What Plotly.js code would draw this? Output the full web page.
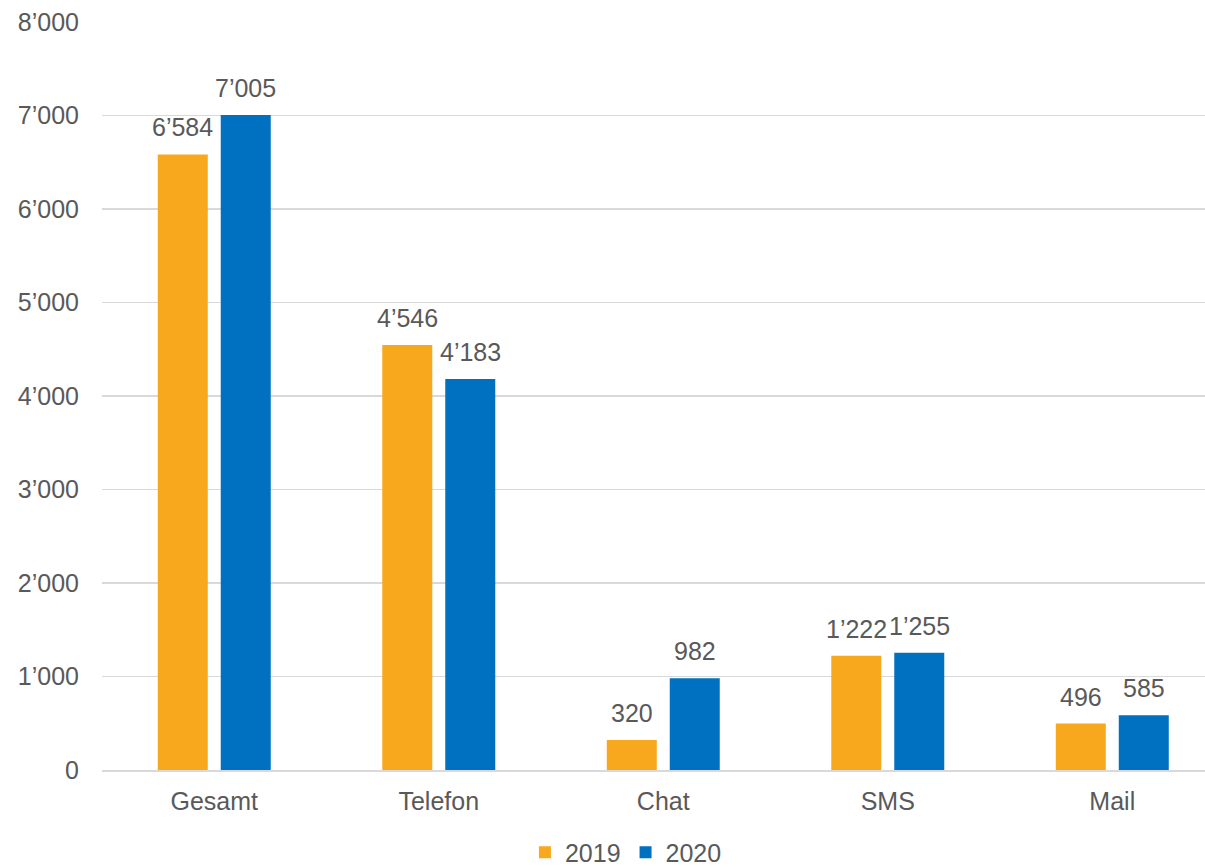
<!DOCTYPE html>
<html>
<head>
<meta charset="utf-8">
<script src="https://cdn.plot.ly/plotly-3.0.1.min.js"></script>
<style>
  html, body { margin: 0; padding: 0; background: #fff; }
  #chart { width: 1205px; height: 867px; }
</style>
</head>
<body>
<div id="chart"></div>
<script>
// Contacts per channel, 2019 vs 2020
const categories = ['Gesamt', 'Telefon', 'Chat', 'SMS', 'Mail'];
const seriesNames = ['2019', '2020'];
const values2019 = [6584, 4546, 320, 1222, 496];
const values2020 = [7005, 4183, 982, 1255, 585];
const yTicks = [0, 1000, 2000, 3000, 4000, 5000, 6000, 7000, 8000];

const colors = ['#F8A81D', '#0070C0'];
const textColor = '#595959';
const fontFamily = 'Liberation Sans, Arial, sans-serif';
const font = { family: fontFamily, size: 25, color: textColor };

// thousands separator: right single quote
const fmt = v => String(v).replace(/\B(?=(\d{3})+(?!\d))/g, '’');

const series = [values2019, values2020];
const traces = series.map((vals, i) => ({
  type: 'bar',
  name: seriesNames[i],
  x: categories,
  y: vals,
  marker: { color: colors[i] },
  hoverinfo: 'skip'
}));

// value labels above each bar, placed on the data coordinates
const barShift = 31.5;
const annotations = [];
series.forEach((vals, i) => {
  vals.forEach((v, j) => {
    annotations.push({
      x: categories[j],
      y: v,
      xref: 'x', yref: 'y',
      text: fmt(v),
      showarrow: false,
      xanchor: 'center',
      yanchor: 'bottom',
      xshift: i === 0 ? -barShift : barShift,
      yshift: 11,
      font: font
    });
  });
});

const layout = {
  width: 1205,
  height: 867,
  margin: { l: 102, r: 0, t: 22, b: 97, autoexpand: false },
  paper_bgcolor: '#fff',
  plot_bgcolor: '#fff',
  font: font,
  separators: '.’',
  barmode: 'group',
  bargap: 0.439,
  bargroupgap: 0.206,
  showlegend: true,
  legend: {
    orientation: 'h',
    x: 0.475, xanchor: 'center', xref: 'paper',
    y: -0.141, yanchor: 'bottom',
    font: font,
    itemwidth: 30,
    traceorder: 'normal'
  },
  annotations: annotations,
  xaxis: {
    type: 'category',
    range: [-0.5, 4.413],
    showgrid: false,
    showline: true,
    linecolor: '#D9D9D9',
    linewidth: 1.5,
    ticks: 'outside',
    ticklen: 8,
    tickcolor: 'rgba(0,0,0,0)',
    tickfont: font,
    fixedrange: true
  },
  yaxis: {
    range: [0, 8000],
    tickvals: yTicks,
    tickformat: ',d',
    showgrid: true,
    gridcolor: '#D9D9D9',
    gridwidth: 1.3,
    zeroline: false,
    showline: false,
    ticks: 'outside',
    ticklen: 17,
    tickcolor: 'rgba(0,0,0,0)',
    tickfont: font,
    fixedrange: true
  }
};

Plotly.newPlot('chart', traces, layout, { displayModeBar: false, staticPlot: true });
</script>
</body>
</html>
